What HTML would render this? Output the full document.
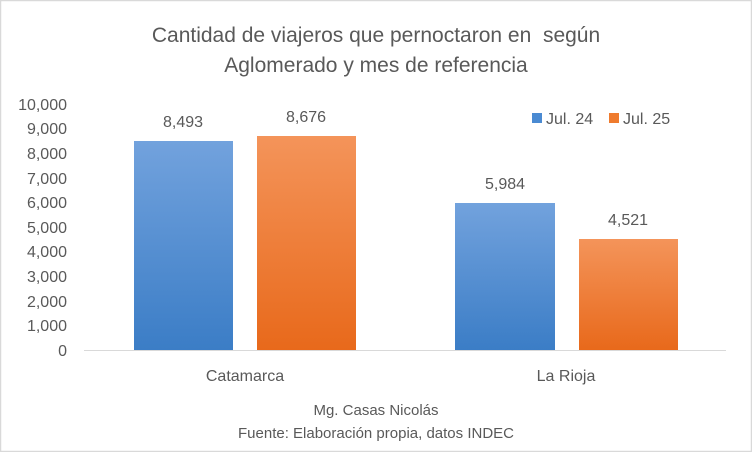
<!DOCTYPE html>
<html><head><meta charset="utf-8"><style>
html,body{margin:0;padding:0;background:#fff}
svg{display:block}
text{font-family:"Liberation Sans",sans-serif;fill:#595959}
</style></head><body>
<svg width="752" height="452" viewBox="0 0 752 452" xmlns="http://www.w3.org/2000/svg">
<defs>
<linearGradient id="b" x1="0" y1="0" x2="0" y2="1"><stop offset="0" stop-color="#72a2dd"/><stop offset="1" stop-color="#3b7dc6"/></linearGradient>
<linearGradient id="o" x1="0" y1="0" x2="0" y2="1"><stop offset="0" stop-color="#f4945a"/><stop offset="1" stop-color="#e8691b"/></linearGradient>
</defs>
<rect x="0.5" y="0.5" width="751" height="451" fill="#fff" stroke="#d9d9d9" stroke-width="1.5"/>
<text x="376" y="42" font-size="21" text-anchor="middle" style="white-space:pre">Cantidad de viajeros que pernoctaron en  según</text>
<text x="376" y="72" font-size="21" text-anchor="middle">Aglomerado y mes de referencia</text>
<g font-size="16" text-anchor="end">
<text x="67" y="110">10,000</text><text x="67" y="134">9,000</text><text x="67" y="159">8,000</text><text x="67" y="184">7,000</text><text x="67" y="208">6,000</text><text x="67" y="233">5,000</text><text x="67" y="257">4,000</text><text x="67" y="282">3,000</text><text x="67" y="307">2,000</text><text x="67" y="331">1,000</text><text x="67" y="356">0</text>
</g>
<rect x="134" y="141" width="99" height="209" fill="url(#b)"/>
<rect x="257" y="136" width="99" height="214" fill="url(#o)"/>
<rect x="455" y="203" width="100" height="147" fill="url(#b)"/>
<rect x="579" y="239" width="99" height="111" fill="url(#o)"/>
<line x1="84" y1="350.5" x2="726" y2="350.5" stroke="#d9d9d9" stroke-width="1"/>
<g font-size="16" text-anchor="middle">
<text x="183" y="127">8,493</text><text x="306" y="122">8,676</text><text x="505" y="189">5,984</text><text x="628" y="225">4,521</text>
<text x="245" y="381">Catamarca</text><text x="566" y="381">La Rioja</text>
<text x="376" y="415" font-size="15">Mg. Casas Nicolás</text>
<text x="376" y="438" font-size="15">Fuente: Elaboración propia, datos INDEC</text>
</g>
<rect x="532" y="113" width="10" height="10" fill="#4a8ad2"/>
<text x="546" y="124" font-size="16">Jul. 24</text>
<rect x="609" y="113" width="10" height="10" fill="#ef7b2e"/>
<text x="623" y="124" font-size="16">Jul. 25</text>
</svg>
</body></html>
